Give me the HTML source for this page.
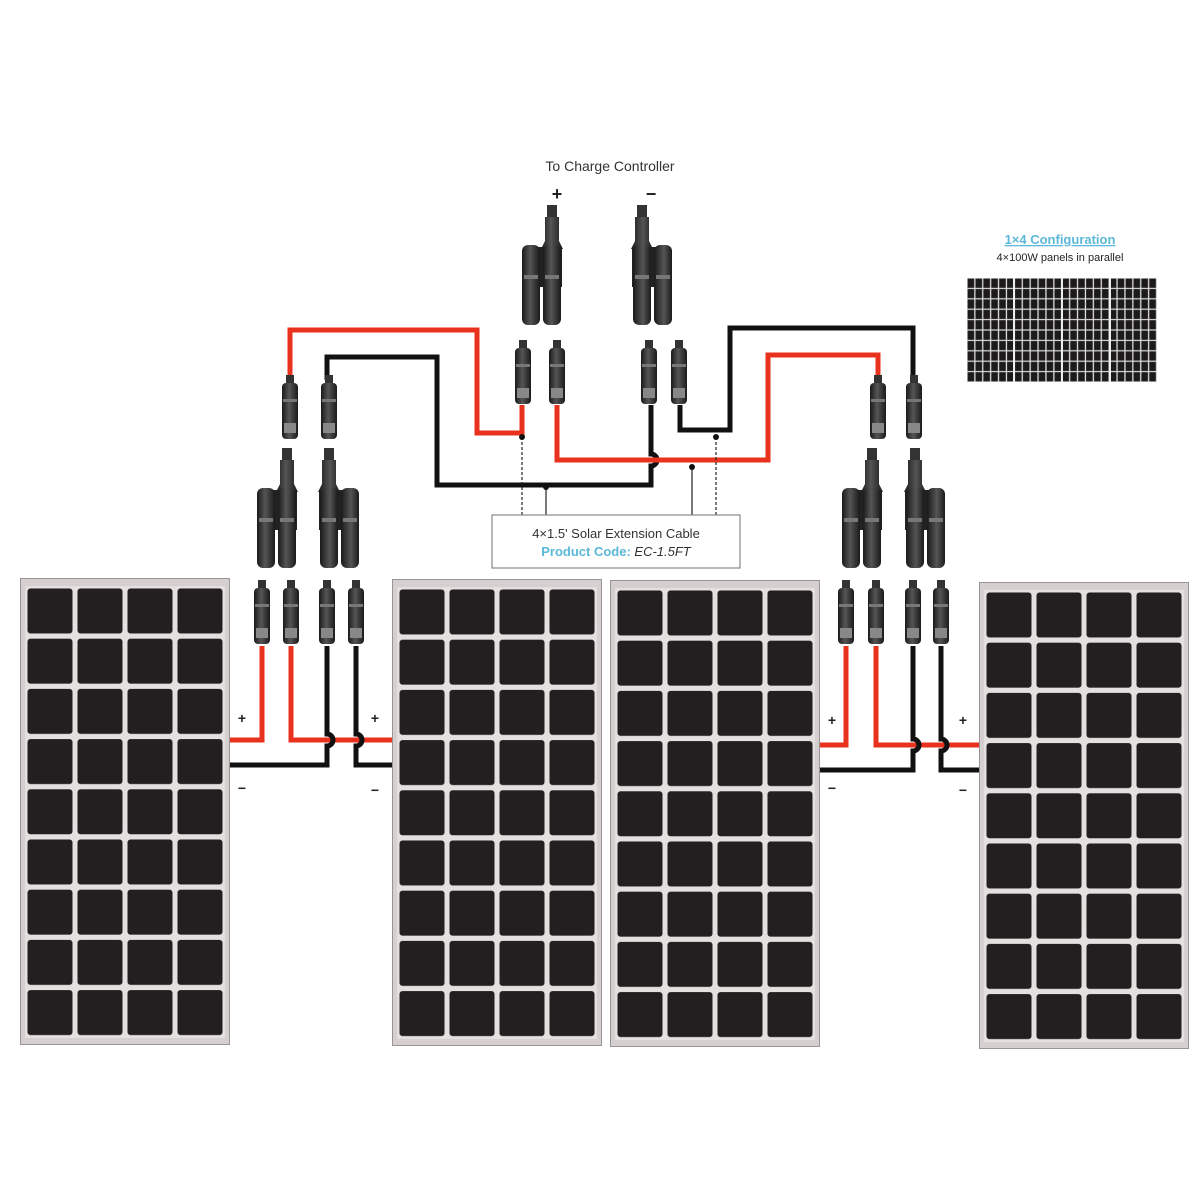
<!DOCTYPE html>
<html><head><meta charset="utf-8"><style>
html,body{margin:0;padding:0;background:#fff}
svg{display:block}
text{font-family:"Liberation Sans",sans-serif}
</style></head><body>
<svg width="1200" height="1200" viewBox="0 0 1200 1200" xmlns="http://www.w3.org/2000/svg">
<defs>
 <pattern id="cells" x="5" y="8" width="50" height="50.2" patternUnits="userSpaceOnUse">
  <rect x="2.5" y="2.5" width="45" height="45" rx="3" fill="#231f20"/>
 </pattern>
 <pattern id="mini" x="967" y="278" width="7.9" height="10.4" patternUnits="userSpaceOnUse">
  <rect x="0.6" y="0.6" width="6.6" height="9.2" fill="#1c1a1b"/>
 </pattern>
 <linearGradient id="cg" x1="0" x2="1">
  <stop offset="0" stop-color="#1a1a1a"/><stop offset="0.45" stop-color="#555"/><stop offset="1" stop-color="#1a1a1a"/>
 </linearGradient>
 <symbol id="conn" viewBox="0 0 18 68" width="18" height="68" overflow="visible">
  <rect x="5" y="0" width="8" height="10" fill="#333"/>
  <rect x="1" y="8" width="16" height="56" rx="4" fill="url(#cg)"/>
  <rect x="2" y="24" width="14" height="3" fill="#777"/>
  <rect x="3" y="48" width="12" height="10" fill="#888"/>
 </symbol>
 <symbol id="yb" viewBox="0 0 50 125" width="50" height="125" overflow="visible">
  <rect x="29" y="0" width="10" height="14" fill="#333"/>
  <path d="M27 12 h14 v24 l4 8 h-22 l4 -8z" fill="url(#cg)"/>
  <path d="M6 42 h38 v40 h-38z" fill="#222"/>
  <rect x="4" y="40" width="18" height="80" rx="6" fill="url(#cg)"/>
  <rect x="25" y="40" width="18" height="80" rx="6" fill="url(#cg)"/>
  <rect x="6" y="70" width="14" height="4" fill="#777"/>
  <rect x="27" y="70" width="14" height="4" fill="#777"/>
 </symbol>
 <symbol id="panel" viewBox="0 0 210 467" width="210" height="467">
  <rect x="0" y="0" width="210" height="467" fill="#d6cfcf" stroke="#9a9494" stroke-width="2"/>
  <rect x="5" y="8" width="200" height="452" fill="#e4e0e0"/>
  <rect x="5" y="8" width="200" height="452" fill="url(#cells)"/>
 </symbol>
</defs>

<text x="610" y="171" font-size="14" text-anchor="middle" fill="#333">To Charge Controller</text>
<text x="557" y="200" font-size="18" text-anchor="middle" font-weight="bold" fill="#222">+</text>
<text x="651" y="200" font-size="18" text-anchor="middle" font-weight="bold" fill="#222">−</text>

<text x="1060" y="244" font-size="13" font-weight="bold" text-anchor="middle" fill="#5bb8d8" text-decoration="underline">1×4 Configuration</text>
<text x="1060" y="261" font-size="11" text-anchor="middle" fill="#222">4×100W panels in parallel</text>
<rect x="967" y="278" width="190" height="104" fill="#ddd"/>
<rect x="967" y="278" width="190" height="104" fill="url(#mini)"/>
<line x1="1014" y1="278" x2="1014" y2="382" stroke="#eee" stroke-width="2"/>
<line x1="1062" y1="278" x2="1062" y2="382" stroke="#eee" stroke-width="2"/>
<line x1="1110" y1="278" x2="1110" y2="382" stroke="#eee" stroke-width="2"/>

<g fill="none" stroke-width="5" stroke-linejoin="miter">
 <path d="M522 405 V433 H477 V330 H290 V380" stroke="#e8321e"/>
 <path d="M327 380 V357 H437 V485 H651 V466 a6 6 0 0 0 0 -12 V405" stroke="#111"/>
 <path d="M557 405 V460 H768 V355 H878 V380" stroke="#e8321e"/>
 <path d="M680 405 V430 H730 V328 H913 V380" stroke="#111"/>
</g>
<g stroke="#222" stroke-width="1.2">
 <line x1="522" y1="437" x2="522" y2="515" stroke-dasharray="3,2"/>
 <line x1="546" y1="487" x2="546" y2="515"/>
 <line x1="692" y1="467" x2="692" y2="515"/>
 <line x1="716" y1="437" x2="716" y2="515" stroke-dasharray="3,2"/>
</g>
<g fill="#111"><circle cx="522" cy="437" r="3"/><circle cx="546" cy="487" r="3"/><circle cx="692" cy="467" r="3"/><circle cx="716" cy="437" r="3"/></g>
<rect x="492" y="515" width="248" height="53" fill="#fff" stroke="#888" stroke-width="1.2"/>
<text x="616" y="538" font-size="13" text-anchor="middle" fill="#333">4×1.5' Solar Extension Cable</text>
<text x="616" y="556" font-size="13" text-anchor="middle" fill="#5bb8d8" font-weight="bold">Product Code: <tspan fill="#333" font-weight="normal" font-style="italic">EC-1.5FT</tspan></text>

<use href="#yb" x="518" y="205"/>
<use href="#conn" x="514" y="340"/>
<use href="#conn" x="548" y="340"/>
<g transform="translate(1301,0) scale(-1,1)"><use href="#yb" x="625" y="205"/></g>
<use href="#conn" x="640" y="340"/>
<use href="#conn" x="670" y="340"/>

<use href="#conn" x="281" y="375"/>
<use href="#conn" x="320" y="375"/>
<use href="#yb" x="253" y="448"/>
<g transform="translate(681,0) scale(-1,1)"><use href="#yb" x="318" y="448"/></g>
<use href="#conn" x="253" y="580"/>
<use href="#conn" x="282" y="580"/>
<use href="#conn" x="318" y="580"/>
<use href="#conn" x="347" y="580"/>

<use href="#conn" x="869" y="375"/>
<use href="#conn" x="905" y="375"/>
<use href="#yb" x="838" y="448"/>
<g transform="translate(1853,0) scale(-1,1)"><use href="#yb" x="904" y="448"/></g>
<use href="#conn" x="837" y="580"/>
<use href="#conn" x="867" y="580"/>
<use href="#conn" x="904" y="580"/>
<use href="#conn" x="932" y="580"/>

<g fill="none" stroke-width="5">
 <path d="M262 646 V740 H228" stroke="#e8321e"/>
 <path d="M291 646 V740 H394" stroke="#e8321e"/>
 <path d="M327 646 V734 a6 6 0 0 1 0 12 V765 H228" stroke="#111"/>
 <path d="M356 646 V734 a6 6 0 0 1 0 12 V765 H394" stroke="#111"/>
 <path d="M846 646 V745 H818" stroke="#e8321e"/>
 <path d="M876 646 V745 H980" stroke="#e8321e"/>
 <path d="M913 646 V739 a6 6 0 0 1 0 12 V770 H818" stroke="#111"/>
 <path d="M941 646 V739 a6 6 0 0 1 0 12 V770 H980" stroke="#111"/>
</g>
<g font-size="14" font-weight="bold" fill="#222" text-anchor="middle">
 <text x="242" y="723">+</text><text x="375" y="723">+</text>
 <text x="832" y="725">+</text><text x="963" y="725">+</text>
 <text x="242" y="793">−</text><text x="375" y="795">−</text>
 <text x="832" y="793">−</text><text x="963" y="795">−</text>
</g>

<use href="#panel" x="20" y="578"/>
<use href="#panel" x="392" y="579"/>
<use href="#panel" x="610" y="580"/>
<use href="#panel" x="979" y="582"/>
</svg>
</body></html>
